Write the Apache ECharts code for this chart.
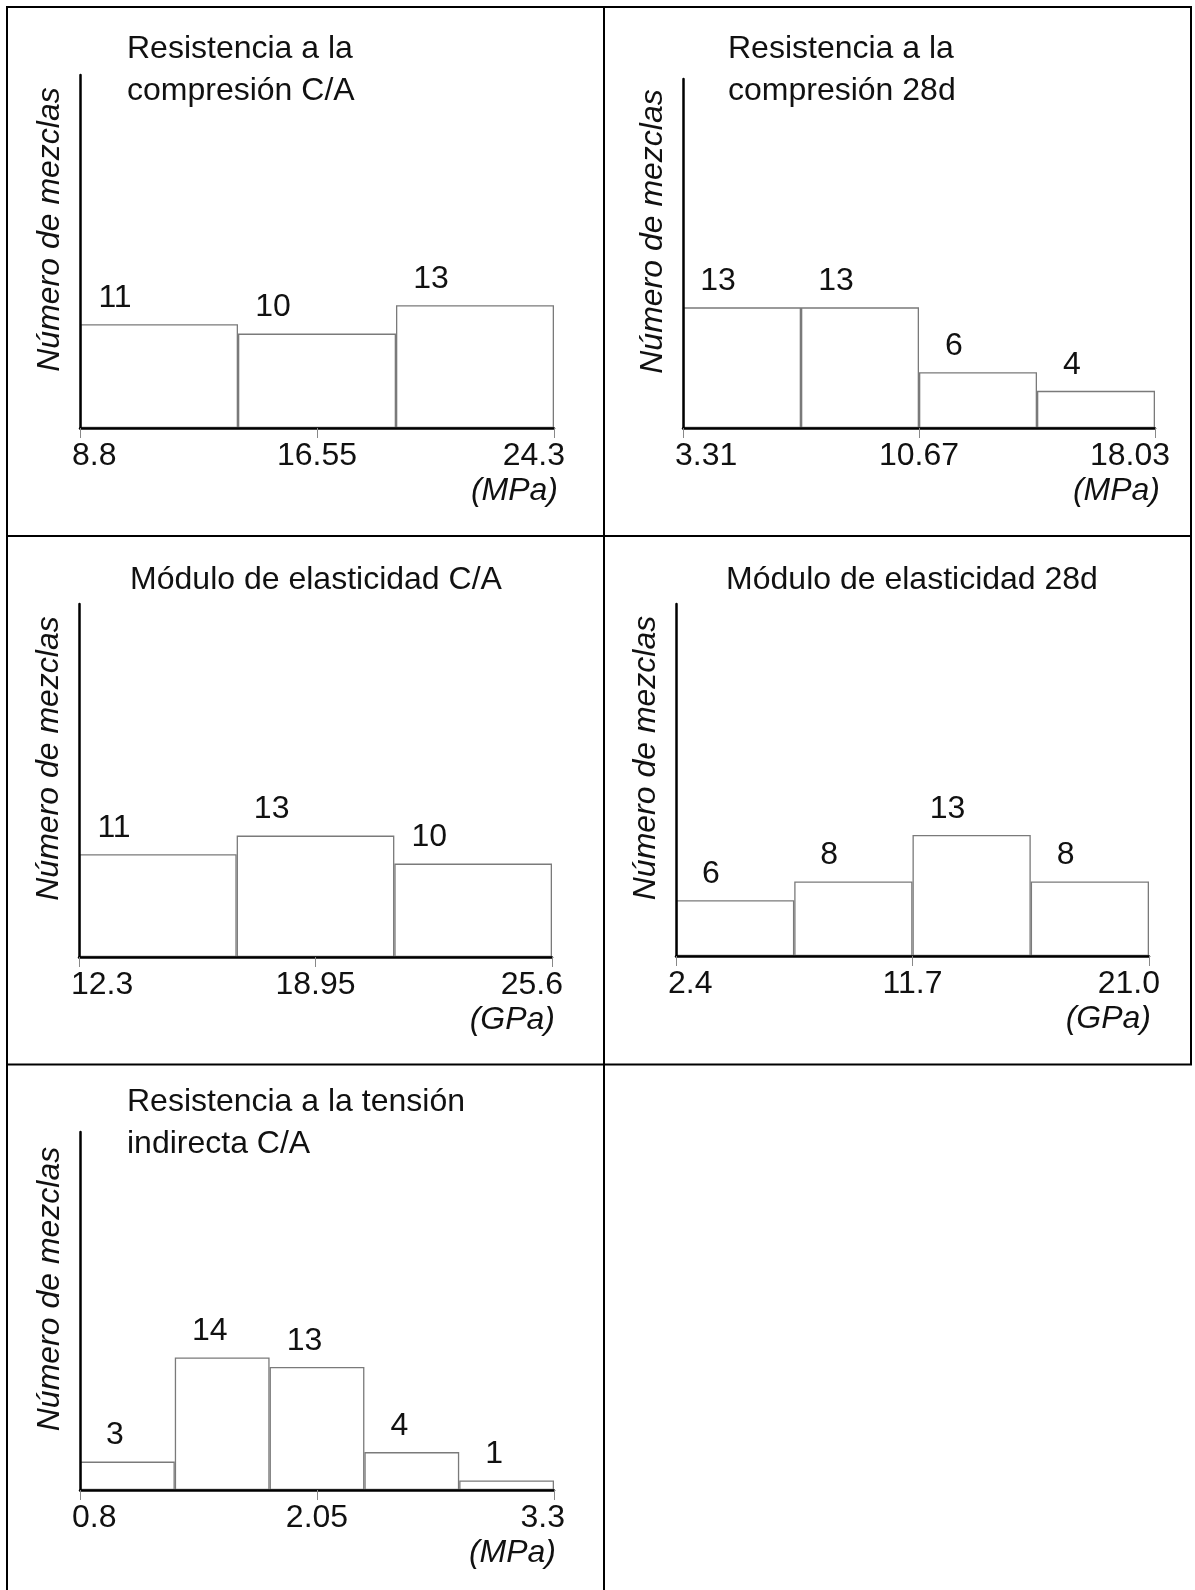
<!DOCTYPE html>
<html>
<head>
<meta charset="utf-8">
<script src="https://cdn.jsdelivr.net/npm/echarts@6/dist/echarts.min.js"></script>
<style>
  html, body { margin: 0; padding: 0; background: #fff; }
  #chart { width: 1195px; height: 1590px; }
</style>
</head>
<body>
<div id="chart"></div>
<script>
// ---------------- DATA ----------------
const titles = [
  'Resistencia a la\ncompresión C/A',
  'Resistencia a la\ncompresión 28d',
  'Módulo de elasticidad C/A',
  'Módulo de elasticidad 28d',
  'Resistencia a la tensión\nindirecta C/A'
];
const yAxisName = 'Número de mezclas';
const counts1 = [11, 10, 13];
const counts2 = [13, 13, 6, 4];
const counts3 = [11, 13, 10];
const counts4 = [6, 8, 13, 8];
const counts5 = [3, 14, 13, 4, 1];
const ticks1 = ['8.8', '16.55', '24.3'];
const ticks2 = ['3.31', '10.67', '18.03'];
const ticks3 = ['12.3', '18.95', '25.6'];
const ticks4 = ['2.4', '11.7', '21.0'];
const ticks5 = ['0.8', '2.05', '3.3'];
const units = ['(MPa)', '(MPa)', '(GPa)', '(GPa)', '(MPa)'];

const allCounts = [counts1, counts2, counts3, counts4, counts5];
const allTicks = [ticks1, ticks2, ticks3, ticks4, ticks5];

// ---------------- LAYOUT ----------------
const FONT = "'Liberation Sans', Arial, Helvetica, sans-serif";
const FS = 32;
const TXT = '#111';
const panels = [
  { l: 80,  r: 554,  t: 75,   b: 428,  yMax: 37.4, tx: 127, ty: 28,   tAlign: 'left',   maxOff: 11, uOff: 4 },
  { l: 683, r: 1155, t: 79,   b: 428,  yMax: 37.6, tx: 728, ty: 28,   tAlign: 'left',   maxOff: 15, uOff: 5 },
  { l: 79,  r: 552,  t: 604,  b: 957,  yMax: 37.8, tx: 316, ty: 559,  tAlign: 'center', maxOff: 11, uOff: 3 },
  { l: 676, r: 1149, t: 604,  b: 956,  yMax: 37.8, tx: 912, ty: 559,  tAlign: 'center', maxOff: 11, uOff: 2 },
  { l: 80,  r: 554,  t: 1132, b: 1490, yMax: 37.8, tx: 127, ty: 1081, tAlign: 'left',   maxOff: 11, uOff: 2 }
];

const mctx = document.createElement('canvas').getContext('2d');
mctx.font = FS + 'px ' + FONT;
const tw = s => mctx.measureText(s).width;

const grid = [], xAxis = [], yAxis = [], series = [], title = [], graphic = [];

panels.forEach((p, i) => {
  const counts = allCounts[i];
  const ticks = allTicks[i];
  grid.push({ left: p.l, top: p.t, width: p.r - p.l, height: p.b - p.t, containLabel: false, outerBoundsMode: 'none' });

  // hidden category axis that carries the bins
  xAxis.push({
    gridIndex: i, type: 'category', show: false, boundaryGap: true,
    data: counts.map((_, k) => 'bin' + (k + 1))
  });
  const padMin = Math.max(0, tw(ticks[0]) - 16);
  const padMax = Math.max(0, tw(ticks[2]) - 2 * p.maxOff);
  const richBase = { fontSize: FS, fontFamily: FONT, color: TXT, lineHeight: FS };
  // visible axis with min / middle / max ticks
  xAxis.push({
    gridIndex: i, type: 'value', position: 'bottom', min: 0, max: 2, interval: 1, z: 10,
    axisLine: { show: true, onZero: false, lineStyle: { color: '#000', width: 2.5 } },
    axisTick: { show: true, length: 10, inside: false, lineStyle: { color: '#888', width: 1 } },
    splitLine: { show: false },
    axisLabel: {
      show: true, margin: 12, fontSize: FS, fontFamily: FONT, color: TXT, lineHeight: FS,
      formatter: v => {
        const k = Math.round(v);
        if (k === 0) return '{mn|' + ticks[0] + '}';
        if (k === 2) return '{mx|' + ticks[2] + '}';
        return ticks[k];
      },
      rich: {
        mn: Object.assign({ padding: [0, 0, 0, padMin] }, richBase),
        mx: Object.assign({ padding: [0, padMax, 0, 0] }, richBase)
      }
    }
  });
  yAxis.push({
    gridIndex: i, type: 'value', min: 0, max: p.yMax, z: 10,
    axisLine: { show: true, lineStyle: { color: '#000', width: 2.5 } },
    axisTick: { show: false }, axisLabel: { show: false }, splitLine: { show: false },
    name: yAxisName, nameLocation: 'middle', nameRotate: 90, nameGap: 14,
    nameTextStyle: {
      fontSize: FS, fontFamily: FONT, fontStyle: 'italic', color: TXT,
      padding: [0, 0, 0, 44]
    }
  });
  series.push({
    type: 'bar', xAxisIndex: 2 * i, yAxisIndex: i, data: counts,
    barWidth: '100%', barCategoryGap: 0, z: 2,
    itemStyle: { color: '#fff', borderColor: '#7a7a7a', borderWidth: 1.3 },
    label: {
      show: true, position: [35, -26], align: 'center', verticalAlign: 'middle',
      fontSize: FS, fontFamily: FONT, color: TXT
    },
    emphasis: { disabled: true }, silent: true, animation: false
  });
  title.push({
    text: titles[i], left: p.tx, top: p.ty, textAlign: p.tAlign,
    textStyle: { fontSize: FS, fontFamily: FONT, fontWeight: 'normal', color: TXT, lineHeight: 42 },
    padding: 0
  });
  // unit text under the right end of the x axis
  graphic.push({
    type: 'text', silent: true, z: 100,
    x: p.r + p.uOff, y: p.b + 63,
    style: {
      text: units[i], align: 'right', verticalAlign: 'middle',
      font: 'italic ' + FS + 'px ' + FONT, fill: TXT
    }
  });
});

// table frame (decoration)
const lineEl = (x1, y1, x2, y2) => ({
  type: 'line', silent: true, z: 100,
  shape: { x1, y1, x2, y2 }, style: { stroke: '#000', lineWidth: 2 }
});
graphic.push(
  lineEl(6, 7, 1192, 7),
  lineEl(7, 6, 7, 1590),
  lineEl(604, 6, 604, 1590),
  lineEl(1191, 6, 1191, 1065),
  lineEl(6, 536, 1192, 536),
  lineEl(6, 1064.5, 1192, 1064.5)
);

const chart = echarts.init(document.getElementById('chart'), null, { renderer: 'canvas' });
chart.setOption({
  backgroundColor: '#fff',
  animation: false,
  title, grid, xAxis, yAxis, series, graphic
});
</script>
</body>
</html>
